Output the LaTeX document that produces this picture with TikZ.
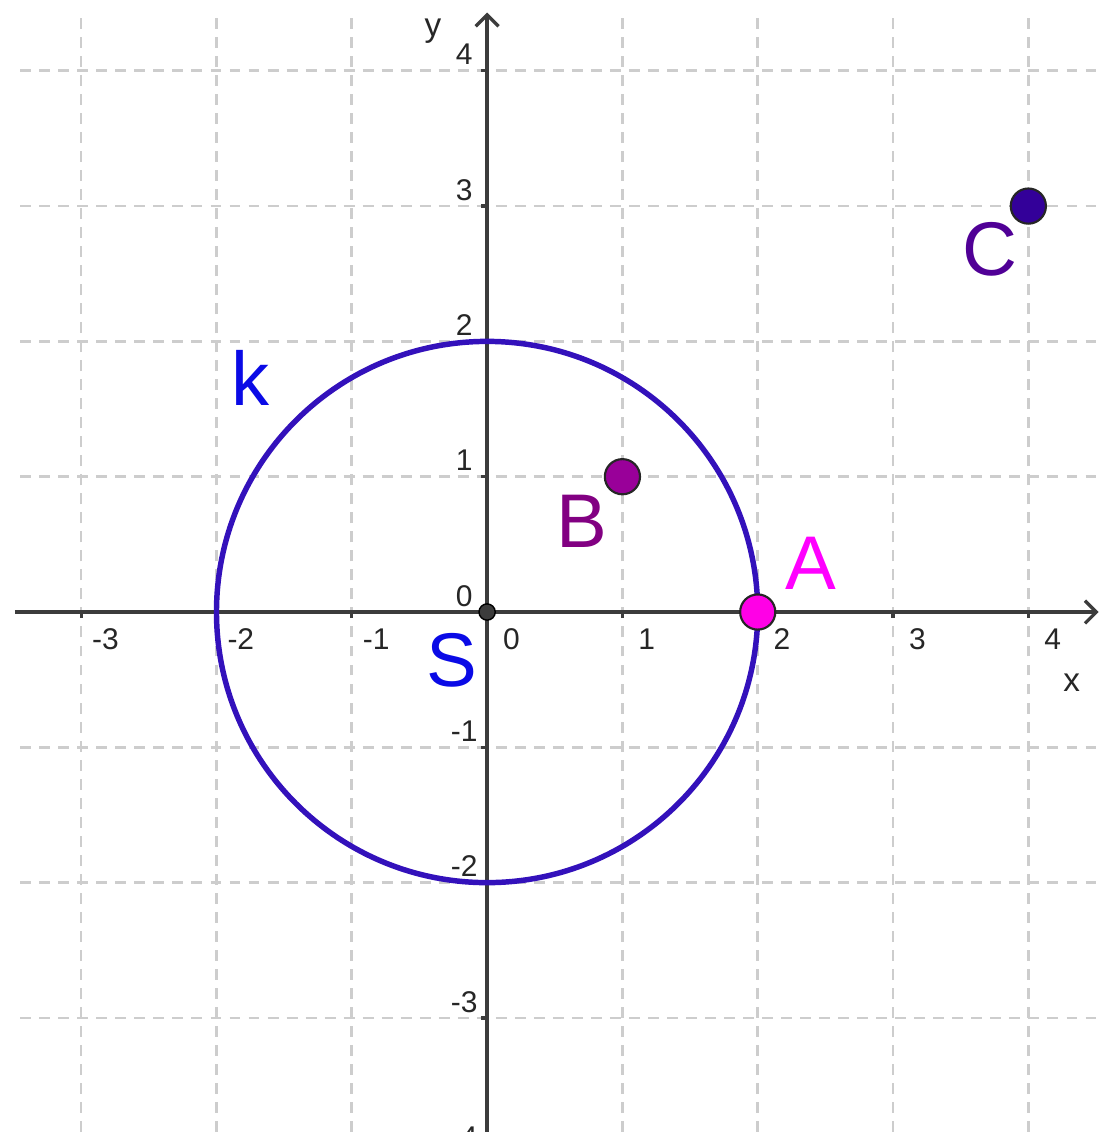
\documentclass[tikz,border=0pt]{standalone}
\usepackage{fontspec}
\setmainfont{Liberation Sans}
\usetikzlibrary{arrows.meta}

\definecolor{circblue}{RGB}{51,17,187}
\definecolor{labblue}{RGB}{10,10,230}
\definecolor{ptmagenta}{RGB}{255,0,230}
\definecolor{labmagenta}{RGB}{255,0,255}
\definecolor{ptpurple}{RGB}{153,0,153}
\definecolor{labpurple}{RGB}{130,0,130}
\definecolor{ptindigo}{RGB}{51,0,153}
\definecolor{labindigo}{RGB}{80,0,150}
\definecolor{gridgray}{RGB}{205,205,205}
\definecolor{axisgray}{RGB}{60,60,60}

\begin{document}
\begin{tikzpicture}[
    >={Straight Barb[length=2.4pt,width=4.8pt]},
    gridline/.style={draw=gridgray, line width=0.55pt, dash pattern=on 2.3pt off 1.7pt},
    axisline/.style={draw=axisgray, line width=0.7pt},
    ticklab/.style={font=\fontsize{6.3}{7}\selectfont, text=black!85, inner sep=0pt},
    axislab/.style={font=\fontsize{7}{8}\selectfont, text=black!85, inner sep=0pt},
    ptlab/.style={font=\fontsize{16}{18}\selectfont, inner sep=0pt},
    point/.style={circle, draw=black!85, line width=0.45pt, minimum size=0.26cm, inner sep=0pt},
]
\useasboundingbox (-3.6,-3.843) rectangle (4.627,4.523);

% Grid
\foreach \g in {-3,...,4} {
    \draw[gridline] (\g,-3.843) -- (\g,4.4);
    \draw[gridline] (-3.45,\g) -- (4.5,\g);
}

% Axes
\coordinate (xstart) at (-3.49,0);
\coordinate (xend) at (4.52,0);
\coordinate (ystart) at (0,-3.9);
\coordinate (yend) at (0,4.43);
\draw[axisline, ->] (xstart) -- (xend);
\draw[axisline, ->] (ystart) -- (yend);
\node[axislab] (xlab) at (4.32,-0.52) {x};
\node[axislab] (ylab) at (-0.4,4.29) {y};

% Ticks and tick labels
\foreach \t in {-3,...,4} {
    \draw[axisline] (\t,0) -- (\t,-0.045);
    \node[ticklab] (xt\t) at (\t+0.18,-0.2) {\t};
}
\foreach \t in {-4,...,4} {
    \draw[axisline] (0,\t) -- (-0.045,\t);
    \node[ticklab] (yt\t) at (-0.17,\t+0.12) {\t};
}

% Circle k
\coordinate (S) at (0,0);
\draw[circblue, line width=1.15pt] (S) circle (2);
\node[ptlab, text=labblue] (klab) at (-1.75,1.73) {k};

% Points
\node[circle, fill=axisgray, draw=black, line width=0.3pt, minimum size=0.12cm, inner sep=0pt] (Sdot) at (S) {};
\node[ptlab, text=labblue] (Slab) at (-0.26,-0.36) {S};
\node[point, fill=ptmagenta] (A) at (2,0) {};
\node[ptlab, text=labmagenta] (Alab) at (2.39,0.36) {A};
\node[point, fill=ptpurple] (B) at (1,1) {};
\node[ptlab, text=labpurple] (Blab) at (0.70,0.67) {B};
\node[point, fill=ptindigo] (C) at (4,3) {};
\node[ptlab, text=labindigo] (Clab) at (3.72,2.68) {C};

\end{tikzpicture}
\end{document}
